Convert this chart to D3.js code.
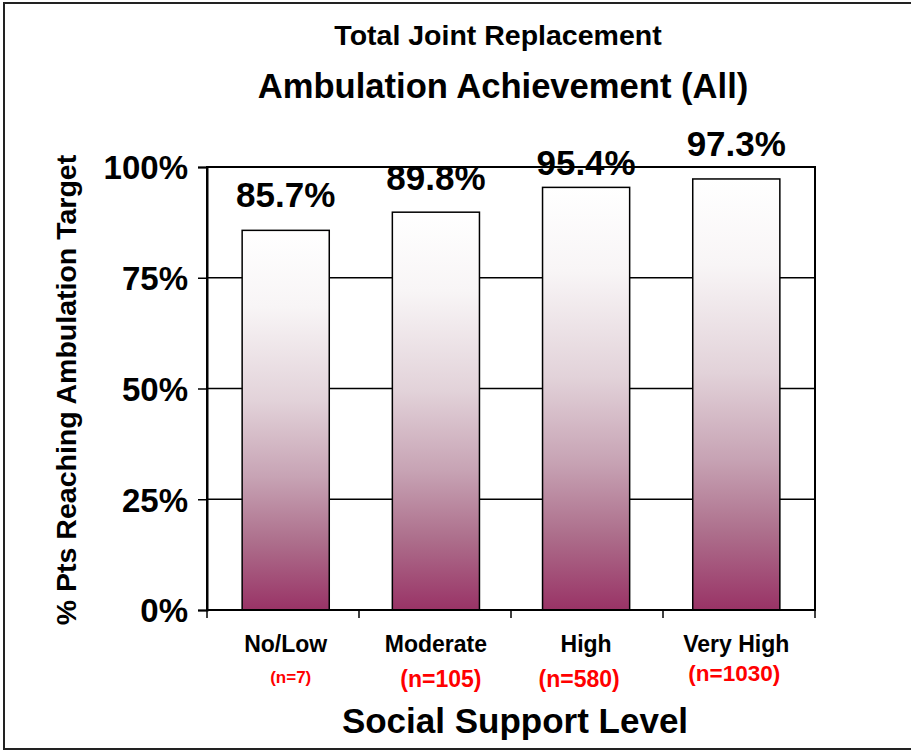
<!DOCTYPE html>
<html>
  <head>
    <meta charset="utf-8">
    <style>
      body { margin: 0; background: #fff; }
      text { font-family: "Liberation Sans", Arial, sans-serif; font-weight: bold; }
    </style>
  </head>
  <body>
    <script src="https://cdn.jsdelivr.net/npm/d3@7"></script>
    <script>
      var categories = ['No/Low', 'Moderate', 'High', 'Very High'];
      var counts = ['(n=7)', '(n=105)', '(n=580)', '(n=1030)'];
      var values = [0.857, 0.898, 0.954, 0.973];
      var labels = ['85.7%', '89.8%', '95.4%', '97.3%'];
      var yTicks = [0, 0.25, 0.5, 0.75, 1];

      var W = 911, H = 751;
      var plotLeft = 207, plotRight = 815, plotTop = 167, plotBottom = 610;

      var svg = d3.select('body').append('svg')
        .attr('width', W).attr('height', H);

      // outer frame
      svg.append('rect')
        .attr('x', 4).attr('y', 3).attr('width', W + 10).attr('height', H - 5)
        .attr('fill', 'none').attr('stroke', '#222').attr('stroke-width', 2);

      var x = d3.scaleBand().domain(categories)
        .range([plotLeft, plotRight]).paddingInner(0.42).paddingOuter(0.234);
      var y = d3.scaleLinear().domain([0, 1]).range([plotBottom, plotTop]);

      // white at the top fading to plum at the bottom, greyish in the middle
      var grad = svg.append('defs').append('linearGradient')
        .attr('id', 'barGrad').attr('x1', 0).attr('y1', 0).attr('x2', 0).attr('y2', 1);
      [['0%', '#ffffff'], ['20%', '#f8f5f6'], ['45%', '#e2d2d9'],
       ['65%', '#c7a3b4'], ['82%', '#ad6f8c'], ['100%', '#993366']]
        .forEach(function (s) {
          grad.append('stop').attr('offset', s[0]).attr('stop-color', s[1]);
        });

      // gridlines
      svg.append('g').selectAll('line')
        .data(yTicks.slice(1, 4))
        .enter().append('line')
        .attr('x1', plotLeft).attr('x2', plotRight)
        .attr('y1', function (d) { return y(d); })
        .attr('y2', function (d) { return y(d); })
        .attr('stroke', '#000').attr('stroke-width', 1.5);

      // bars
      svg.append('g').selectAll('rect')
        .data(values)
        .enter().append('rect')
        .attr('x', function (d, i) { return x(categories[i]); })
        .attr('y', function (d) { return y(d); })
        .attr('width', x.bandwidth())
        .attr('height', function (d) { return y(0) - y(d); })
        .attr('fill', 'url(#barGrad)')
        .attr('stroke', '#000').attr('stroke-width', 1.5);

      // plot border
      svg.append('rect')
        .attr('x', plotLeft).attr('y', plotTop)
        .attr('width', plotRight - plotLeft).attr('height', plotBottom - plotTop)
        .attr('fill', 'none').attr('stroke', '#000').attr('stroke-width', 2);

      // y axis
      var yAxis = svg.append('g')
        .attr('transform', 'translate(' + plotLeft + ',0)')
        .call(d3.axisLeft(y).tickValues(yTicks).tickFormat(d3.format('.0%')).tickSize(9).tickPadding(10));
      yAxis.select('.domain').attr('stroke-width', 2);
      yAxis.selectAll('.tick line').attr('stroke-width', 1.5);
      yAxis.selectAll('.tick text')
        .attr('font-size', 33).attr('dy', '0.36em')
        .style('font-family', '"Liberation Sans", Arial, sans-serif')
        .style('font-weight', 'bold').attr('fill', '#000');

      // x axis tick marks at category boundaries
      svg.append('g').selectAll('line')
        .data(d3.range(categories.length + 1))
        .enter().append('line')
        .attr('x1', function (i) { return plotLeft + i * (plotRight - plotLeft) / categories.length; })
        .attr('x2', function (i) { return plotLeft + i * (plotRight - plotLeft) / categories.length; })
        .attr('y1', plotBottom).attr('y2', plotBottom + 8)
        .attr('stroke', '#000').attr('stroke-width', 1.5);

      // value labels (Excel dropped the 95.4% one a little lower)
      var labelNudge = [0, 1, 11, 0];
      svg.append('g').selectAll('text')
        .data(values)
        .enter().append('text')
        .attr('x', function (d, i) { return x(categories[i]) + x.bandwidth() / 2; })
        .attr('y', function (d, i) { return y(d) - 23 + labelNudge[i]; })
        .attr('text-anchor', 'middle')
        .attr('font-size', 35)
        .text(function (d, i) { return labels[i]; });

      // category labels
      svg.append('g').selectAll('text')
        .data(categories)
        .enter().append('text')
        .attr('x', function (d) { return x(d) + x.bandwidth() / 2; })
        .attr('y', 652)
        .attr('text-anchor', 'middle')
        .attr('font-size', 23)
        .text(function (d) { return d; });

      var countY = [683, 687, 687, 681];
      var countSize = [17, 23, 23, 22.5];
      svg.append('g').selectAll('text')
        .data(counts)
        .enter().append('text')
        .attr('x', function (d, i) { return x(categories[i]) + x.bandwidth() / 2 + [5, 5, -7, -2][i]; })
        .attr('y', function (d, i) { return countY[i]; })
        .attr('text-anchor', 'middle')
        .attr('font-size', function (d, i) { return countSize[i]; })
        .attr('fill', '#ff0000')
        .text(function (d) { return d; });

      // titles
      svg.append('text').attr('x', 498).attr('y', 45)
        .attr('text-anchor', 'middle').attr('font-size', 28.5)
        .text('Total Joint Replacement');
      svg.append('text').attr('x', 503).attr('y', 98)
        .attr('text-anchor', 'middle').attr('font-size', 34.6)
        .text('Ambulation Achievement (All)');
      svg.append('text').attr('x', 515).attr('y', 733)
        .attr('text-anchor', 'middle').attr('font-size', 35)
        .text('Social Support Level');
      svg.append('text')
        .attr('transform', 'translate(76,390) rotate(-90)')
        .attr('text-anchor', 'middle').attr('font-size', 28.5)
        .text('% Pts Reaching Ambulation Target');
    </script>
  </body>
</html>
